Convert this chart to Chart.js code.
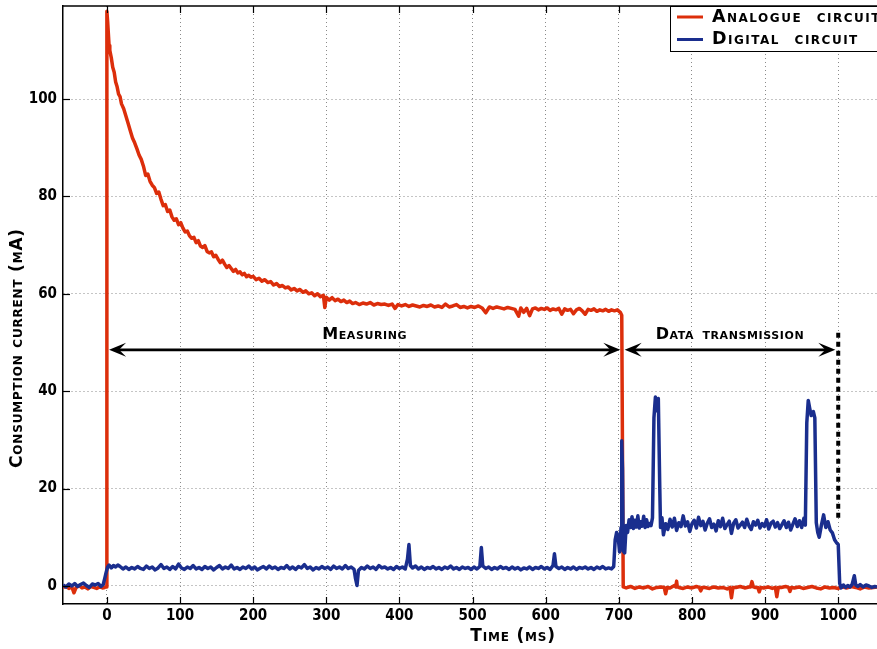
<!DOCTYPE html>
<html><head><meta charset="utf-8">
<script src="https://cdn.jsdelivr.net/npm/chart.js@4"></script>
<style>html,body{margin:0;padding:0;background:#fff;overflow:hidden}#wrap{width:877px;height:649px;position:relative}</style>
</head><body><div id="wrap"><canvas id="c" width="877" height="649"></canvas></div>
<script>
// ---------- DATA ----------
const seriesNames = ['Analogue circuit', 'Digital circuit'];
const xTitle = 'Time (ms)';
const yTitle = 'Consumption current (mA)';
const xTicks = [0, 100, 200, 300, 400, 500, 600, 700, 800, 900, 1000];
const yTicks = [0, 20, 40, 60, 80, 100];

const timeAnalogue = [
 -60,-56,-52,-48,-45,-42,-38,-34,-30,-26,
 -22,-18,-14,-10,-6,-3,-1,0,1,2,
 3,4,6,8,10,12,14,16,18,20,
 23,26,29,32,35,38,41,44,47,50,
 53,56,59,62,65,68,71,74,77,80,
 83,86,89,92,95,98,101,104,107,110,
 113,116,119,122,125,128,131,134,137,140,
 143,146,149,152,155,158,161,164,167,170,
 173,176,179,182,185,188,191,194,197,200,
 204,208,212,216,220,224,228,232,236,240,
 244,248,252,256,260,264,268,272,276,280,
 284,288,292,296,298,300,304,308,312,316,
 320,324,328,332,336,340,345,350,355,360,
 365,370,375,380,385,390,394,398,403,408,
 413,418,423,428,433,438,443,448,453,458,
 463,468,473,478,483,488,493,498,503,508,
 513,518,523,528,533,538,543,548,553,558,
 563,566,570,574,578,582,586,590,594,598,
 602,606,610,614,618,622,626,630,634,638,
 642,646,650,654,658,662,666,670,674,678,
 682,686,690,694,698,702,704,
 706,710,716,722,728,734,740,746,752,758,
 762,764,766,770,776,778,779,780,782,788,
 794,800,806,810,812,814,818,824,830,836,
 842,848,852,854,856,860,866,872,878,880,
 882,884,886,890,892,894,898,904,910,914,
 916,918,922,928,932,934,936,940,946,952,
 958,964,970,976,982,988,994,1000,1006,1012,
 1018,1024,1030,1036,1042,1048,1053];
const analogue = [
 -0.3,-0.1,-0.5,-0.2,-1.4,-0.3,0.1,-0.4,-0.2,-0.6,
 -0.1,-0.3,-0.5,-0.2,-0.4,-0.3,-0.2,118,116,113.5,
 111,110,108.5,106.5,105.5,103.5,102.5,101,100.5,99,
 98,96.5,95,93.5,92,91,89.8,88.5,87.6,86.2,
 84.3,84.6,83.1,82.3,81.8,80.6,80.9,79.4,78.1,78.3,
 76.9,77.2,75.8,75.1,75.4,74.2,74.6,73.5,72.7,72.9,
 71.9,71.4,71.6,70.5,70.9,69.8,69.5,69.9,68.7,68.4,
 68.6,67.6,67.9,67.1,66.4,66.9,66.1,65.4,65.8,65.2,
 64.6,65.0,64.3,64.5,63.9,64.2,63.5,63.8,63.4,63.6,
 62.9,63.2,62.6,62.9,62.3,62.5,61.8,62.1,61.5,61.7,
 61.2,61.4,60.8,61.1,60.6,60.9,60.3,60.6,60.0,60.2,
 59.6,60.0,59.4,59.7,57.2,59.3,58.7,59.2,58.6,58.9,
 58.4,58.7,58.2,58.5,58.0,58.2,57.8,58.1,57.9,58.2,
 57.7,58.0,57.8,57.9,57.6,57.9,57.0,57.8,57.5,57.8,
 57.4,57.7,57.5,57.3,57.6,57.4,57.7,57.3,57.5,57.2,
 57.9,57.3,57.5,57.8,57.2,57.4,57.1,57.4,57.2,57.5,
 57.1,56.1,57.3,57.0,57.3,57.1,56.9,57.2,57.0,56.8,
 55.4,57.1,56.2,57.0,55.5,56.9,57.1,56.7,57.0,56.8,
 57.1,56.6,56.9,56.7,57.0,55.8,56.9,56.6,56.8,55.9,
 56.7,57.0,56.5,55.8,56.8,56.6,56.9,56.4,56.7,56.5,
 56.8,56.4,56.7,56.5,56.7,56.2,55.6,
 -0.2,-0.4,-0.1,-0.5,-0.2,-0.4,-0.1,-0.6,-0.3,-0.2,
 -0.3,-1.6,-0.3,-0.4,0.1,-0.2,1.0,-0.2,-0.3,-0.5,
 -0.2,-0.4,-0.1,-0.3,-1.0,-0.3,-0.3,-0.5,-0.2,-0.4,
 -0.3,-0.6,-0.3,-2.4,-0.3,-0.3,-0.1,-0.4,-0.2,-0.2,
 0.9,-0.2,-0.3,-0.3,-1.2,-0.3,-0.4,-0.2,-0.5,-0.3,
 -2.2,-0.3,-0.3,-0.1,-0.3,-1.1,-0.3,-0.4,-0.2,-0.5,
 -0.3,-0.1,-0.4,-0.6,-0.2,-0.4,-0.3,-0.5,-0.2,-0.4,
 -0.1,-0.3,-0.6,-0.2,-0.4,-0.3,-0.2];

const timeDigital = [
 -60,-56,-52,-48,-44,-40,-36,-32,-28,-24,
 -20,-16,-12,-8,-5,-3,-1,1,3,6,
 9,12,15,18,22,26,30,34,38,42,
 46,50,54,58,62,66,70,74,78,82,
 86,90,94,98,102,106,110,114,118,122,
 126,130,134,138,142,146,150,154,158,162,
 166,170,174,178,182,186,190,194,198,202,
 206,210,214,218,222,226,230,234,238,242,
 246,250,254,258,262,266,270,274,278,282,
 286,290,294,298,302,306,310,314,318,322,
 326,330,334,338,340,342,344,348,352,356,
 360,364,368,372,376,380,384,388,392,396,
 400,404,408,411,413,415,418,422,426,430,
 434,438,442,446,450,454,458,462,466,470,
 474,478,482,486,490,494,498,502,506,510,
 512,514,518,522,526,530,534,538,542,546,
 550,554,558,562,566,570,574,578,582,586,
 590,594,598,602,606,610,612,614,618,622,
 626,630,634,638,642,646,650,654,658,662,
 666,670,674,678,682,686,690,693,695,697,
 699,701,703,704,705,706,708,710,712,714,
 716,718,720,722,724,726,728,730,732,734,
 736,738,740,742,744,746,748,750,752,754,
 756,757,759,761,764,767,770,773,776,779,
 782,785,788,791,794,797,800,803,806,809,
 812,815,818,821,824,827,830,833,836,839,
 842,845,848,851,854,857,860,863,866,869,
 872,875,878,881,884,887,890,893,896,899,
 902,905,908,911,914,917,920,923,926,929,
 932,935,938,941,944,947,950,953,955,957,
 959,961,963,966,968,970,972,974,977,980,
 983,986,989,992,995,998,1000,1002,1004,1007,
 1010,1013,1016,1019,1022,1024,1027,1030,1034,1038,
 1042,1046,1050,1053];
const digital = [
 0.2,-0.2,0.4,0.0,0.5,-0.1,0.3,0.6,0.1,-0.3,
 0.4,0.2,0.5,-0.1,0.3,1.5,2.8,3.9,4.3,3.7,
 4.2,3.9,4.3,4.0,3.5,3.9,3.4,3.8,3.5,4.0,
 3.6,3.4,4.1,3.6,3.9,3.3,3.7,4.4,3.6,3.9,
 3.4,4.0,3.5,4.5,3.7,3.4,3.9,3.6,4.2,3.5,
 3.8,3.4,4.0,3.6,3.9,3.3,3.8,4.2,3.5,3.9,
 3.6,4.3,3.5,3.8,3.4,3.9,3.6,4.1,3.5,3.9,
 3.3,3.7,4.0,3.5,4.1,3.6,3.9,3.4,3.8,3.6,
 4.2,3.5,3.9,3.4,4.0,3.7,4.4,3.6,3.9,3.3,
 3.8,3.5,4.0,3.6,3.9,3.4,4.1,3.6,3.9,3.5,
 4.2,3.6,3.9,3.4,1.5,0.1,3.2,3.8,3.5,4.1,
 3.6,3.9,3.4,4.2,3.7,3.9,3.5,3.8,3.4,4.0,
 3.6,3.9,3.5,5.5,8.5,4.2,3.7,4.1,3.5,3.9,
 3.4,3.8,3.6,4.0,3.5,3.8,3.4,3.9,3.6,4.1,
 3.5,3.8,3.4,3.9,3.6,3.8,3.4,3.9,3.5,4.0,
 7.9,4.1,3.6,3.9,3.4,3.8,3.5,4.0,3.6,3.8,
 3.4,3.9,3.5,3.8,3.3,3.7,3.5,3.9,3.4,3.8,
 3.6,4.0,3.5,3.8,3.4,4.2,6.6,4.0,3.6,3.9,
 3.4,3.8,3.5,3.9,3.4,3.8,3.6,3.9,3.5,3.8,
 3.4,3.9,3.6,4.0,3.5,3.7,3.5,4.0,9.5,11.0,
 10.2,7.0,12.0,29.8,24,7.2,6.8,12.4,11.0,13.6,
 12.0,14.2,11.8,13.5,12.1,14.4,11.9,13.2,12.3,14.3,
 12.0,13.6,12.2,12.8,12.4,14.0,34.5,38.8,36.0,38.5,
 20.0,12.0,14.0,10.5,12.8,11.6,13.7,12.1,13.9,11.4,
 13.0,12.2,14.4,12.3,13.2,11.2,12.8,13.5,11.9,14.1,
 12.4,13.3,11.5,12.9,13.8,12.0,12.7,11.3,13.4,12.2,
 13.9,11.8,12.6,13.3,10.8,12.9,13.6,11.9,12.5,13.1,
 12.0,13.7,12.3,11.6,13.2,12.5,13.5,11.9,12.8,12.2,
 13.6,11.7,12.9,13.3,12.1,13.0,11.8,12.6,13.4,12.0,
 13.1,11.5,12.7,13.8,12.2,13.4,12.0,13.9,12.5,33.5,
 38.1,36.5,35.0,35.8,34.5,13.0,11.0,10.0,12.5,14.6,
 12.0,13.2,11.5,10.9,9.5,8.8,8.5,0.5,-0.4,0.2,
 -0.3,0.1,-0.2,0.3,2.1,0.2,-0.1,0.3,-0.2,0.2,
 0.0,-0.3,-0.1,-0.2];

// phases annotated with double arrows (ms) and the arrow level (mA)
const phaseNames = ['Measuring', 'Data transmission'];
const phaseStart = [3, 708];
const phaseEnd = [702, 996];
const arrowLevel = 48.5;
const endMarkerTime = 1000;
const endMarkerRange = [14, 52];

// ---------- STYLE ----------
const RED = '#dc2e0b';
const BLUE = '#1a2e8e';
const FAM = '"DejaVu Sans", "Verdana", sans-serif';
const TICKFAM = '"DejaVu Sans Condensed", "DejaVu Sans", sans-serif';

function pts(t, v) { return t.map((x, i) => ({x: x, y: v[i]})); }

function scText(ctx, txt, x, y, size, align, ls, ws) {
  ctx.save();
  ctx.font = 'small-caps bold ' + size + 'px ' + FAM;
  if ('fontVariantCaps' in ctx) ctx.fontVariantCaps = 'small-caps';
  if ('letterSpacing' in ctx) ctx.letterSpacing = (ls || 0) + 'px';
  if ('wordSpacing' in ctx) ctx.wordSpacing = (ws || 0) + 'px';
  ctx.fillStyle = '#000';
  ctx.textAlign = align || 'center';
  ctx.textBaseline = 'middle';
  ctx.fillText(txt, x, y);
  const w = ctx.measureText(txt).width;
  ctx.restore();
  return w;
}

function arrowHead(ctx, tipX, y, dir) {
  const L = 17, W = 7, N = 7;
  ctx.beginPath();
  ctx.moveTo(tipX, y);
  ctx.lineTo(tipX - dir * L, y - W);
  ctx.lineTo(tipX - dir * (L - N), y);
  ctx.lineTo(tipX - dir * L, y + W);
  ctx.closePath();
  ctx.fill();
}

const decor = {
  id: 'decor',
  afterDatasetsDraw(chart) {
    const ctx = chart.ctx, a = chart.chartArea;
    const xs = chart.scales.x, ys = chart.scales.y;
    ctx.save();
    // top frame line
    ctx.strokeStyle = '#000'; ctx.lineWidth = 1.5;
    ctx.beginPath(); ctx.moveTo(a.left, a.top); ctx.lineTo(a.right + 2, a.top); ctx.stroke();
    // inner tick marks
    ctx.lineWidth = 1.2;
    xTicks.forEach(v => {
      const px = Math.round(xs.getPixelForValue(v)) + 0.5;
      ctx.beginPath();
      ctx.moveTo(px, a.bottom); ctx.lineTo(px, a.bottom - 7);
      ctx.moveTo(px, a.top); ctx.lineTo(px, a.top + 7);
      ctx.stroke();
    });
    yTicks.forEach(v => {
      const py = Math.round(ys.getPixelForValue(v)) + 0.5;
      ctx.beginPath(); ctx.moveTo(a.left, py); ctx.lineTo(a.left + 7, py); ctx.stroke();
    });
    // phase arrows
    const ay = ys.getPixelForValue(arrowLevel);
    ctx.fillStyle = '#000'; ctx.strokeStyle = '#000'; ctx.lineWidth = 2.8;
    phaseNames.forEach((name, i) => {
      const x0 = xs.getPixelForValue(phaseStart[i]);
      const x1 = xs.getPixelForValue(phaseEnd[i]);
      ctx.beginPath(); ctx.moveTo(x0 + 8, ay); ctx.lineTo(x1 - 8, ay); ctx.stroke();
      arrowHead(ctx, x0, ay, -1);
      arrowHead(ctx, x1, ay, 1);
      scText(ctx, name, (x0 + x1) / 2, ay - 15, 16, 'center', 0.6, 2);
    });
    // end of transmission marker (dashed)
    const ex = xs.getPixelForValue(endMarkerTime);
    ctx.setLineDash([5, 4]); ctx.lineWidth = 4;
    ctx.beginPath();
    ctx.moveTo(ex, ys.getPixelForValue(endMarkerRange[1]));
    ctx.lineTo(ex, ys.getPixelForValue(endMarkerRange[0]));
    ctx.stroke();
    ctx.setLineDash([]);
    // legend box
    const lx = 670, ly = a.top;
    ctx.fillStyle = '#fff'; ctx.fillRect(lx, ly, 260, 45);
    ctx.strokeStyle = '#000'; ctx.lineWidth = 1;
    ctx.strokeRect(lx + 0.5, ly + 0.5, 260, 45);
    [RED, BLUE].forEach((col, i) => {
      const yy = ly + 11 + i * 22.5;
      ctx.strokeStyle = col; ctx.lineWidth = 3;
      ctx.beginPath(); ctx.moveTo(lx + 7, yy); ctx.lineTo(lx + 33, yy); ctx.stroke();
      scText(ctx, seriesNames[i], lx + 42, yy, 17.5, 'left', 1.5, 7);
    });
    // axis titles
    scText(ctx, xTitle, 513, 637, 17, 'center', 0.8, 0);
    ctx.translate(18, 348); ctx.rotate(-Math.PI / 2);
    scText(ctx, yTitle, 0, 0, 17, 'center', 0.8, 0);
    ctx.restore();
  }
};

new Chart(document.getElementById('c'), {
  type: 'line',
  data: {
    datasets: [
      {label: seriesNames[0], data: pts(timeAnalogue, analogue), borderColor: RED, borderWidth: 3.5,
       pointRadius: 0, tension: 0, order: 1, borderJoinStyle: 'round'},
      {label: seriesNames[1], data: pts(timeDigital, digital), borderColor: BLUE, borderWidth: 3.5,
       pointRadius: 0, tension: 0, order: 0, borderJoinStyle: 'round'}
    ]
  },
  options: {
    responsive: false, animation: false, devicePixelRatio: 1,
    layout: {padding: {top: 6, left: 0, right: 0, bottom: 0}},
    plugins: {legend: {display: false}, tooltip: {enabled: false}},
    scales: {
      x: {
        type: 'linear', min: -60, max: 1053,
        afterBuildTicks: s => { s.ticks = xTicks.map(v => ({value: v})); },
        afterFit: s => { s.height = 45; s.paddingLeft = 0; s.paddingRight = 0; },
        grid: {color: '#8a8a8a', lineWidth: 1, drawTicks: false},
        border: {display: true, color: '#000', width: 1.5, dash: [1, 3]},
        ticks: {color: '#000', padding: 3, maxRotation: 0, autoSkip: false,
                callback: v => String(v),
                font: {family: TICKFAM, weight: 'bold', size: 15}}
      },
      y: {
        type: 'linear', min: -3.7, max: 119.1,
        afterBuildTicks: s => { s.ticks = yTicks.map(v => ({value: v})); },
        afterFit: s => { s.width = 63; s.paddingTop = 0; s.paddingBottom = 0; },
        grid: {color: '#8a8a8a', lineWidth: 1, drawTicks: false},
        border: {display: true, color: '#000', width: 1.5, dash: [1, 3]},
        ticks: {color: '#000', padding: 6, callback: v => String(v),
                font: {family: TICKFAM, weight: 'bold', size: 15}}
      }
    }
  },
  plugins: [decor]
});
</script></body></html>
